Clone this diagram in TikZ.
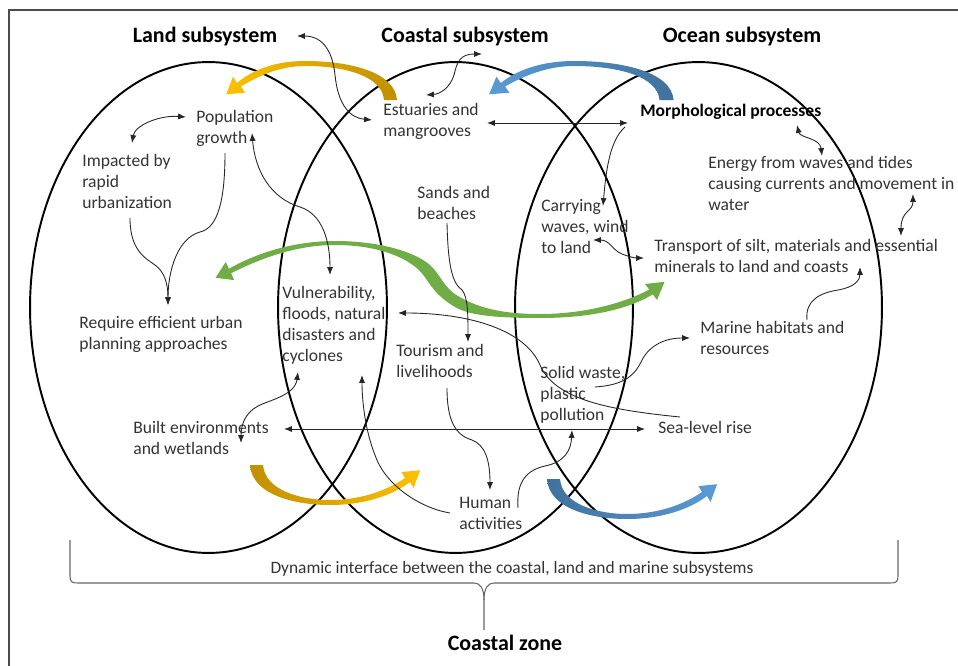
\documentclass[tikz,border=0pt]{standalone}
\usepackage{fontspec}
\setmainfont{Carlito}
\usetikzlibrary{arrows.meta}

\definecolor{goldA}{RGB}{191,144,0}
\definecolor{goldB}{RGB}{255,192,0}
\definecolor{blueA}{RGB}{65,113,156}
\definecolor{blueB}{RGB}{91,155,213}
\definecolor{greenA}{RGB}{112,173,71}
\definecolor{greenB}{RGB}{78,130,46}

\tikzset{
  txt/.style={anchor=base west, align=left, inner sep=0pt, text=black!80,
    font=\fontsize{10}{11.95}\selectfont},
  ttl/.style={anchor=base, inner sep=0pt, font=\bfseries\fontsize{12.5}{15}\selectfont},
  con/.style={line width=0.5pt, black!85},
  ring/.style={line width=1.1pt},
}

\begin{document}
\begin{tikzpicture}[x=0.02cm, y=-0.02cm, >={Latex[length=4.5pt,width=3.5pt]}]
    \useasboundingbox (0,0) rectangle (958,666);
    \draw [black!70, line width=0.6pt] (9,666) -- (9,10) -- (958,10);

    \draw [ring] (208.5,307.5) ellipse [x radius=3.57cm, y radius=4.91cm];
    \draw [ring] (455.5,307.5) ellipse [x radius=3.55cm, y radius=4.91cm];
    \draw [ring] (698.5,307.5) ellipse [x radius=3.67cm, y radius=4.91cm];

    % wide arrows
    \shade [left color=goldB, right color=goldA] (397,100) .. controls (395,72) and (350,61) .. (305,61)
        .. controls (275,61) and (252,70) .. (237,83) -- (233,76.7) -- (226.2,94.3) -- (245,92.7)
        -- (241,86.5) .. controls (258,76) and (280,66) .. (305,66) .. controls (345,66) and (382,76) .. (384,100) -- cycle;
    \shade [left color=blueB, right color=blueA] (673.6,100) .. controls (671.4,72) and (622.8,61) .. (574.2,61)
        .. controls (541.8,61) and (517,70) .. (500.8,83) -- (496.4,76.7) -- (489.1,94.3) -- (509.4,92.7)
        -- (505.1,86.5) .. controls (523.4,76) and (547.2,66) .. (574.2,66) .. controls (617.4,66) and (657.4,76) .. (659.5,100) -- cycle;
    \shade [left color=goldA, right color=goldB] (250,465) .. controls (252,495) and (295,505) .. (330,505)
        .. controls (365,505) and (393,495) .. (410,482) -- (413.6,487.9) -- (420.1,470.2) -- (401.4,472.1)
        -- (405,478) .. controls (386,491) and (360,500) .. (330,500) .. controls (300,500) and (265,490) .. (263,465) -- cycle;
    \shade [left color=blueA, right color=blueB] (547,479) .. controls (549,509) and (592,519) .. (627,519)
        .. controls (662,519) and (690,509) .. (707,496) -- (710.6,501.9) -- (717.1,484.2) -- (698.4,486.1)
        -- (702,492) .. controls (683,505) and (657,514) .. (627,514) .. controls (597,514) and (562,504) .. (560,479) -- cycle;
    \shade [left color=greenA, middle color=greenB, right color=greenA] (228.9,268.7)
        .. controls (262,250) and (300,241) .. (335,241) .. controls (380,241) and (415,252) .. (430,265)
        .. controls (440,274) and (444,288) .. (458,296) .. controls (480,309) and (505,314) .. (540,314)
        .. controls (580,314) and (620,305) .. (649.2,289.6) -- (645,284) -- (664.6,281.8) -- (657,300)
        -- (652.8,294.4) .. controls (625,311) and (585,318) .. (540,318) .. controls (500,318) and (470,316) .. (455,307)
        .. controls (436,296) and (430,284) .. (424,276) .. controls (412,259) and (380,245) .. (335,245)
        .. controls (300,245) and (265,256) .. (231.1,273.3) -- (234.2,280.1) -- (215.5,277.8) -- (225.8,261.9) -- cycle;

    \path (205, 42) node [ttl] (land) {Land subsystem};
    \path (465, 42) node [ttl] (coast) {Coastal subsystem};
    \path (742, 42) node [ttl] (ocean) {Ocean subsystem};

    \path (196,143) node [txt] (pop) {Population\\growth};
    \path ( 82,208) node [txt] (imp) {Impacted by\\rapid\\urbanization};
    \path ( 79,349) node [txt] (req) {Require efficient urban\\planning approaches};
    \path (133,454) node [txt] (built) {Built environments\\and wetlands};
    \path (282,361) node [txt] (vul) {Vulnerability,\\floods, natural\\disasters and\\cyclones};
    \path (383,136) node [txt] (est) {Estuaries and\\mangrooves};
    \path (417,219) node [txt] (sand) {Sands and\\beaches};
    \path (396,377) node [txt] (tour) {Tourism and\\livelihoods};
    \path (459,529) node [txt] (hum) {Human\\activities};
    \path (640,116) node [txt, text=black, font=\bfseries\fontsize{10}{12}\selectfont] (morph) {Morphological processes};
    \path (708,210) node [txt] (energy) {Energy from waves and tides\\causing currents and movement in\\water};
    \path (541,253) node [txt] (carry) {Carrying\\waves, wind\\to land};
    \path (654,272) node [txt] (trans) {Transport of silt, materials and essential\\minerals to land and coasts};
    \path (700,354) node [txt] (marine) {Marine habitats and\\resources};
    \path (540,420) node [txt] (solid) {Solid waste,\\plastic\\pollution};
    \path (658,433) node [txt] (sea) {Sea-level rise};

    \draw [con, <->] ([shift={(92,-6)}]land.base) .. controls (325,36) and (333,55) .. (335,75)
        .. controls (338,105) and (350,118) .. ([shift={(-11,-16)}]est.base west);
    \draw [con, <->] ([shift={(17,12)}]coast.base) .. controls (460,54) and (457,62) .. (454,75)
        .. controls (450,88) and (440,94) .. ([shift={(43,-41)}]est.base west);
    \draw [con, <->] ([shift={(104,-13)}]est.base west) -- ([shift={(-12,7)}]morph.base west);
    \draw [con, ->] ([shift={(-15,11)}]morph.base west) .. controls (610,140) and (606,170) .. ([shift={(62,-47)}]carry.base west);
    \draw [con, <->] ([shift={(-10,-26)}]pop.base west) .. controls (160,115) and (135,125) .. ([shift={(50,-65)}]imp.base west);
    \draw [con, ->] ([shift={(29,10)}]pop.base west) .. controls (225,200) and (218,228) .. (200,232)
        .. controls (178,238) and (168,270) .. ([shift={(89,-44)}]req.base west);
    \draw [con, ->] ([shift={(48,10)}]imp.base west) .. controls (130,250) and (145,258) .. (155,265)
        .. controls (165,272) and (168,285) .. ([shift={(89,-44)}]req.base west);
    \draw [con, <->] ([shift={(56,-10)}]pop.base west) .. controls (255,170) and (270,198) .. (300,207)
        .. controls (322,214) and (330,240) .. ([shift={(48,-86)}]vul.base west);
    \draw [con, ->] ([shift={(30,4)}]sand.base west) .. controls (448,265) and (452,283) .. (462,290)
        .. controls (468,297) and (468,315) .. ([shift={(72,-35)}]tour.base west);
    \draw [con, ->] ([shift={(22,-16)}]sea.base west) .. controls (610,410) and (555,400) .. (540,365)
        .. controls (525,330) and (470,313) .. ([shift={(116,-48)}]vul.base west);
    \draw [con, ->] ([shift={(55,-33)}]solid.base west) .. controls (625,385) and (635,375) .. (642,360)
        .. controls (650,345) and (665,338) .. ([shift={(-10,-16)}]marine.base west);
    \draw [con, ->] ([shift={(107,-34)}]marine.base west) .. controls (805,300) and (820,293) .. (838,290)
        .. controls (855,287) and (860,280) .. ([shift={(206,-5)}]trans.base west);
    \draw [con, <->] ([shift={(52,-13)}]carry.base west) .. controls (610,240) and (612,250) .. (622,254)
        .. controls (630,257) and (635,258) .. ([shift={(-10,-14)}]trans.base west);
    \draw [con, <->] ([shift={(157,9)}]morph.base west) .. controls (800,138) and (820,138) .. ([shift={(114,-54)}]energy.base west);
    \draw [con, <->] ([shift={(205,-16)}]energy.base west) .. controls (913,212) and (901,210) .. ([shift={(247,-36)}]trans.base west);
    \draw [con, <->] ([shift={(16,11)}]vul.base west) .. controls (295,395) and (270,400) .. (258,406)
        .. controls (245,413) and (241,425) .. ([shift={(108,-11)}]built.base west);
    \draw [con, <->] ([shift={(151,-25)}]built.base west) -- ([shift={(-13,-4)}]sea.base west);
    \draw [con, ->] ([shift={(-9,-16)}]hum.base west) .. controls (420,508) and (385,485) .. (375,455)
        .. controls (365,430) and (362,400) .. ([shift={(80,14)}]vul.base west);
    \draw [con, ->] ([shift={(51,11)}]tour.base west) .. controls (447,420) and (455,435) .. (472,440)
        .. controls (485,445) and (490,460) .. ([shift={(31,-39)}]hum.base west);
    \draw [con, ->] ([shift={(59,-21)}]hum.base west) .. controls (516,480) and (528,470) .. (545,466)
        .. controls (565,462) and (571,450) .. ([shift={(32,10)}]solid.base west);

    \draw [black!60, line width=0.6pt] (70,540) -- (70,576) .. controls (70,582) and (72,583) .. (78,583)
        -- (474,583) .. controls (480,583) and (484,588) .. (484,600) -- (484,630);
    \draw [black!60, line width=0.6pt] (898,540) -- (898,576) .. controls (898,582) and (896,583) .. (890,583)
        -- (494,583) .. controls (488,583) and (484,588) .. (484,600);

    \path (512,573) node [anchor=base, inner sep=0pt, text=black!80, font=\fontsize{9.9}{11}\selectfont] (dyn)
        {Dynamic interface between the coastal, land and marine subsystems};
    \path (505,650) node [ttl] (zone) {Coastal zone};
\end{tikzpicture}
\end{document}
